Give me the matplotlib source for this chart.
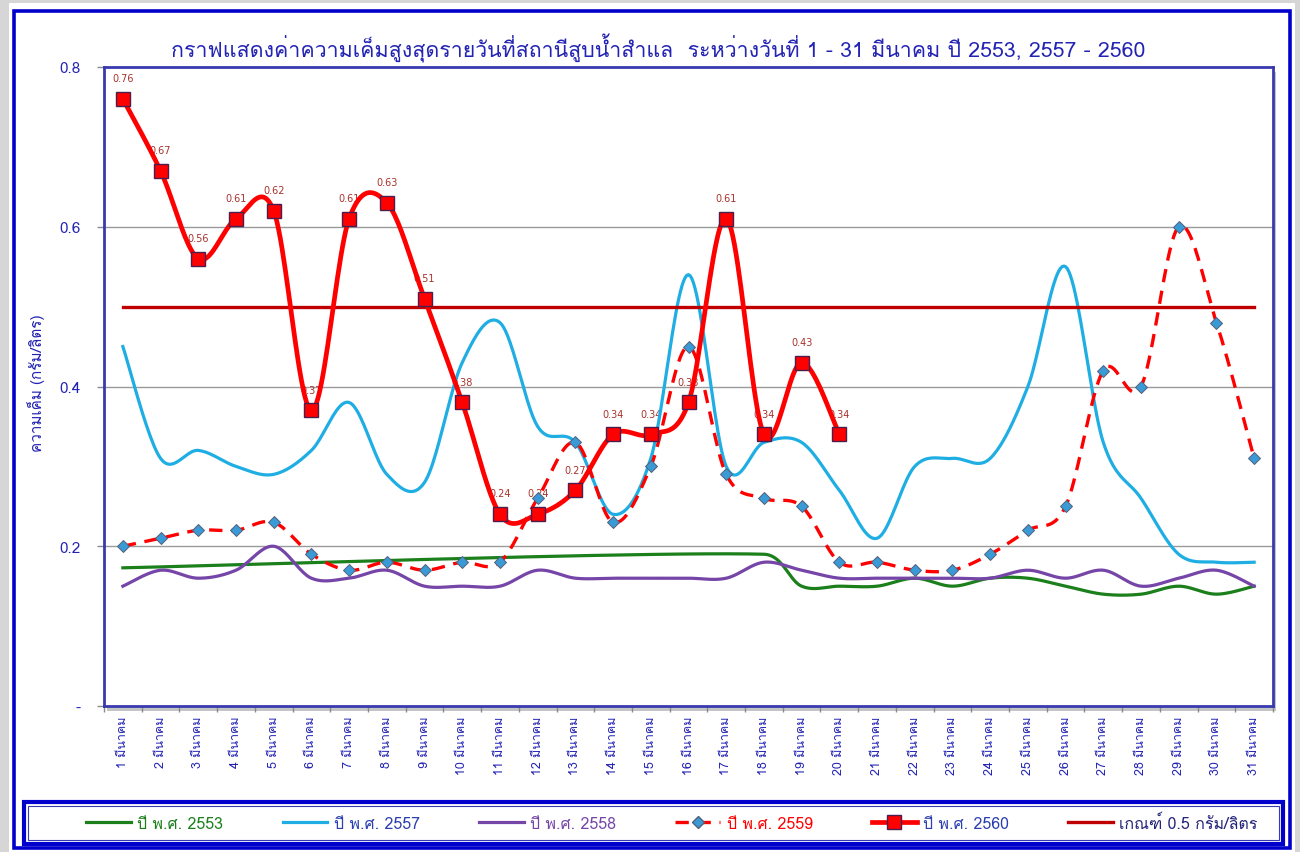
import numpy as np
import matplotlib
matplotlib.use("Agg")
import matplotlib.pyplot as plt
import matplotlib.patches as mpatches
from matplotlib.lines import Line2D
from matplotlib import font_manager as fm, ft2font

# find an installed font that has Thai glyphs
thai_fams = []
for f in fm.fontManager.ttflist:
    try:
        if 0x0E01 in ft2font.FT2Font(f.fname).get_charmap():
            if f.name not in thai_fams:
                thai_fams.append(f.name)
    except Exception:
        pass
plt.rcParams['font.family'] = thai_fams[:1] + ['DejaVu Sans']

days = list(range(1, 32))
day_labels = [f'{d} มีนาคม' for d in days]

nan = np.nan
y2553 = [0.173, nan, nan, nan, nan, nan, nan, nan, nan, nan, nan, nan, nan, nan, nan, nan, nan,
         0.19, 0.15, 0.15, 0.15, 0.16, 0.15, 0.16, 0.16, 0.15, 0.14, 0.14, 0.15, 0.14, 0.15]
y2557 = [0.45, 0.31, 0.32, 0.30, 0.29, 0.32, 0.38, 0.29, 0.28, 0.43, 0.48, 0.35, 0.33, 0.24, 0.31, 0.54,
         0.30, 0.33, 0.33, 0.27, 0.21, 0.30, 0.31, 0.31, 0.40, 0.55, 0.33, 0.26, 0.19, 0.18, 0.18]
y2558 = [0.15, 0.17, 0.16, 0.17, 0.20, 0.16, 0.16, 0.17, 0.15, 0.15, 0.15, 0.17, 0.16, 0.16, 0.16, 0.16,
         0.16, 0.18, 0.17, 0.16, 0.16, 0.16, 0.16, 0.16, 0.17, 0.16, 0.17, 0.15, 0.16, 0.17, 0.15]
y2559 = [0.20, 0.21, 0.22, 0.22, 0.23, 0.19, 0.17, 0.18, 0.17, 0.18, 0.18, 0.26, 0.33, 0.23, 0.30, 0.45,
         0.29, 0.26, 0.25, 0.18, 0.18, 0.17, 0.17, 0.19, 0.22, 0.25, 0.42, 0.40, 0.60, 0.48, 0.31]
y2560 = [0.76, 0.67, 0.56, 0.61, 0.62, 0.37, 0.61, 0.63, 0.51, 0.38, 0.24, 0.24, 0.27, 0.34, 0.34, 0.38,
         0.61, 0.34, 0.43, 0.34] + [nan] * 11
threshold = 0.5

series_names = ['ปี พ.ศ. 2553', 'ปี พ.ศ. 2557', 'ปี พ.ศ. 2558', 'ปี พ.ศ. 2559', 'ปี พ.ศ. 2560',
                'เกณฑ์ 0.5 กรัม/ลิตร']

BLUE = '#2323B4'
C_GREEN = '#1B7F1B'
C_CYAN = '#1FAEE3'
C_PURPLE = '#7545A8'
C_RED = '#FF0000'
C_THR = '#C00000'
DASH = (0, (4, 2.6))


def smooth(xs, ys, n=24):
    # excel-like smoothed line (catmull-rom bezier), gaps are joined
    xs = np.asarray(xs, float)
    ys = np.asarray(ys, float)
    ok = ~np.isnan(ys)
    pts = np.column_stack([xs[ok], ys[ok]])
    out = [pts[0]]
    t = np.linspace(0, 1, n)[1:, None]
    for i in range(len(pts) - 1):
        p0 = pts[max(i - 1, 0)]
        p1 = pts[i]
        p2 = pts[i + 1]
        p3 = pts[min(i + 2, len(pts) - 1)]
        dx = p2[0] - p1[0]
        v1 = (p2 - p0) / 6
        v2 = (p3 - p1) / 6
        # keep handles inside the segment (gaps make long neighbours)
        if abs(v1[0]) > dx / 2:
            v1 = v1 * (dx / 2) / abs(v1[0])
        if abs(v2[0]) > dx / 2:
            v2 = v2 * (dx / 2) / abs(v2[0])
        c1 = p1 + v1
        c2 = p2 - v2
        seg = (1 - t) ** 3 * p1 + 3 * (1 - t) ** 2 * t * c1 + 3 * (1 - t) * t ** 2 * c2 + t ** 3 * p2
        out.extend(seg)
    out = np.array(out)
    return out[:, 0], out[:, 1]


W, H = 1300, 853
fig = plt.figure(figsize=(W / 100, H / 100), dpi=100)
fig.patch.set_facecolor('#D6D6D6')

# white chart area + blue outer frame
fig.patches.append(mpatches.Rectangle((9 / W, 0), (1295 - 9) / W, (H - 4) / H,
                                      transform=fig.transFigure, facecolor='white', edgecolor='none', zorder=-3))
fig.patches.append(mpatches.Rectangle((14.5 / W, 1 - 848.5 / H), (1290 - 14.5) / W, (848.5 - 11.5) / H,
                                      transform=fig.transFigure, facecolor='none', edgecolor='#0000CC',
                                      linewidth=2.6, zorder=-2))

ax_l, ax_r, ax_t, ax_b = 104, 1273, 68, 707
ax = fig.add_axes([ax_l / W, 1 - ax_b / H, (ax_r - ax_l) / W, (ax_b - ax_t) / H])
# plot area shadow
fig.patches.append(mpatches.Rectangle(((ax_l + 3) / W, 1 - (ax_b + 5) / H), (ax_r - ax_l) / W, (ax_b - ax_t) / H,
                                      transform=fig.transFigure, facecolor='#C4C4C4', edgecolor='none', zorder=-1))

ax.set_xlim(0.5, 31.5)
ax.set_ylim(0, 0.8)

for yy in [0.2, 0.4, 0.6]:
    ax.axhline(yy, color='#9A9A9A', lw=1, zorder=1)

# labels of 2560 (drawn under lines)
for d, v in zip(days, y2560):
    if not np.isnan(v):
        ax.annotate(f'{v:.2f}', (d, v), xytext=(0, 15), textcoords='offset points',
                    ha='center', va='center', fontsize=7, color='#A8322C', zorder=2,
                    family=['DejaVu Sans'])

sx, sy = smooth(days, y2553)
ax.plot(sx, sy, color=C_GREEN, lw=2.3, zorder=3)
sx, sy = smooth(days, y2557)
ax.plot(sx, sy, color=C_CYAN, lw=2.3, zorder=3)
sx, sy = smooth(days, y2558)
ax.plot(sx, sy, color=C_PURPLE, lw=2.3, zorder=3)
sx, sy = smooth(days, y2559)
ax.plot(sx, sy, color=C_RED, lw=2.4, ls=DASH, zorder=4)
ax.plot(days, y2559, ls='none', marker='D', ms=6, mfc='#3A9AD6', mec='#55607A', mew=0.7, zorder=5)
ax.plot([days[0], days[-1]], [threshold, threshold], color=C_THR, lw=2.4, zorder=4)
sx, sy = smooth(days, y2560)
ax.plot(sx, sy, color=C_RED, lw=3.4, zorder=6)
ax.plot(days, y2560, ls='none', marker='s', ms=9.5, mfc=C_RED, mec='#4A1E4E', mew=1, zorder=7)

for s in ax.spines.values():
    s.set_color('#3A3AB0')
    s.set_linewidth(2)

ax.set_yticks([0, 0.2, 0.4, 0.6, 0.8])
ax.set_yticklabels(['-', '0.2', '0.4', '0.6', '0.8'])
ax.tick_params(axis='y', direction='out', length=5, width=1, color='#8A8A8A', pad=12,
               labelsize=11, labelcolor=BLUE)

ax.set_xticks(days)
ax.set_xticklabels(day_labels, rotation=90, va='top', ha='center')
ax.set_xticks(np.arange(0.5, 32, 1), minor=True)
ax.tick_params(axis='x', which='major', length=0, pad=7, labelsize=9, labelcolor=BLUE)
ax.tick_params(axis='x', which='minor', direction='out', length=4, width=1, color='#8A8A8A')

fig.text(658 / W, 1 - 48 / H, 'กราฟแสดงค่าความเค็มสูงสุดรายวันที่สถานีสูบน้ำสำแล  ระหว่างวันที่ 1 - 31 มีนาคม ปี 2553, 2557 - 2560',
         ha='center', va='center', fontsize=15.4, color=BLUE)
fig.text(36 / W, 1 - 383 / H, 'ความเค็ม (กรัม/ลิตร)', rotation=90, ha='center', va='center',
         fontsize=11, color=BLUE)

# legend
handles = [
    Line2D([], [], color=C_GREEN, lw=2.3),
    Line2D([], [], color=C_CYAN, lw=2.3),
    Line2D([], [], color=C_PURPLE, lw=2.3),
    Line2D([], [], color=C_RED, lw=2.4, ls=DASH, marker='D', ms=6, mfc='#3A9AD6', mec='#55607A'),
    Line2D([], [], color=C_RED, lw=3.4, marker='s', ms=9.5, mfc=C_RED, mec='#4A1E4E'),
    Line2D([], [], color=C_THR, lw=2.4),
]
lg_l, lg_r, lg_t, lg_b = 24, 1283, 803, 845
leg = fig.legend(handles, series_names, ncol=6, loc='center', mode='expand',
                 bbox_to_anchor=(72 / W, 1 - lg_b / H, (1272 - 72) / W, (lg_b - lg_t) / H),
                 frameon=False, fontsize=11.5, handlelength=2.8, handletextpad=0.4)
for txt, c in zip(leg.get_texts(), [C_GREEN, '#2B3FB0', C_PURPLE, C_RED, '#2B3FB0', '#24247A']):
    txt.set_color(c)
fig.patches.append(mpatches.Rectangle((lg_l / W, 1 - lg_b / H), (lg_r - lg_l) / W, (lg_b - lg_t) / H,
                                      transform=fig.transFigure, facecolor='white', edgecolor='#0000CC',
                                      linewidth=3, zorder=1))
fig.patches.append(mpatches.Rectangle(((lg_l + 4) / W, 1 - (lg_b - 4) / H), (lg_r - lg_l - 8) / W, (lg_b - lg_t - 8) / H,
                                      transform=fig.transFigure, facecolor='none', edgecolor='#3A3AB0',
                                      linewidth=0.8, zorder=1))

fig.savefig('out.png', dpi=100, facecolor=fig.get_facecolor())
